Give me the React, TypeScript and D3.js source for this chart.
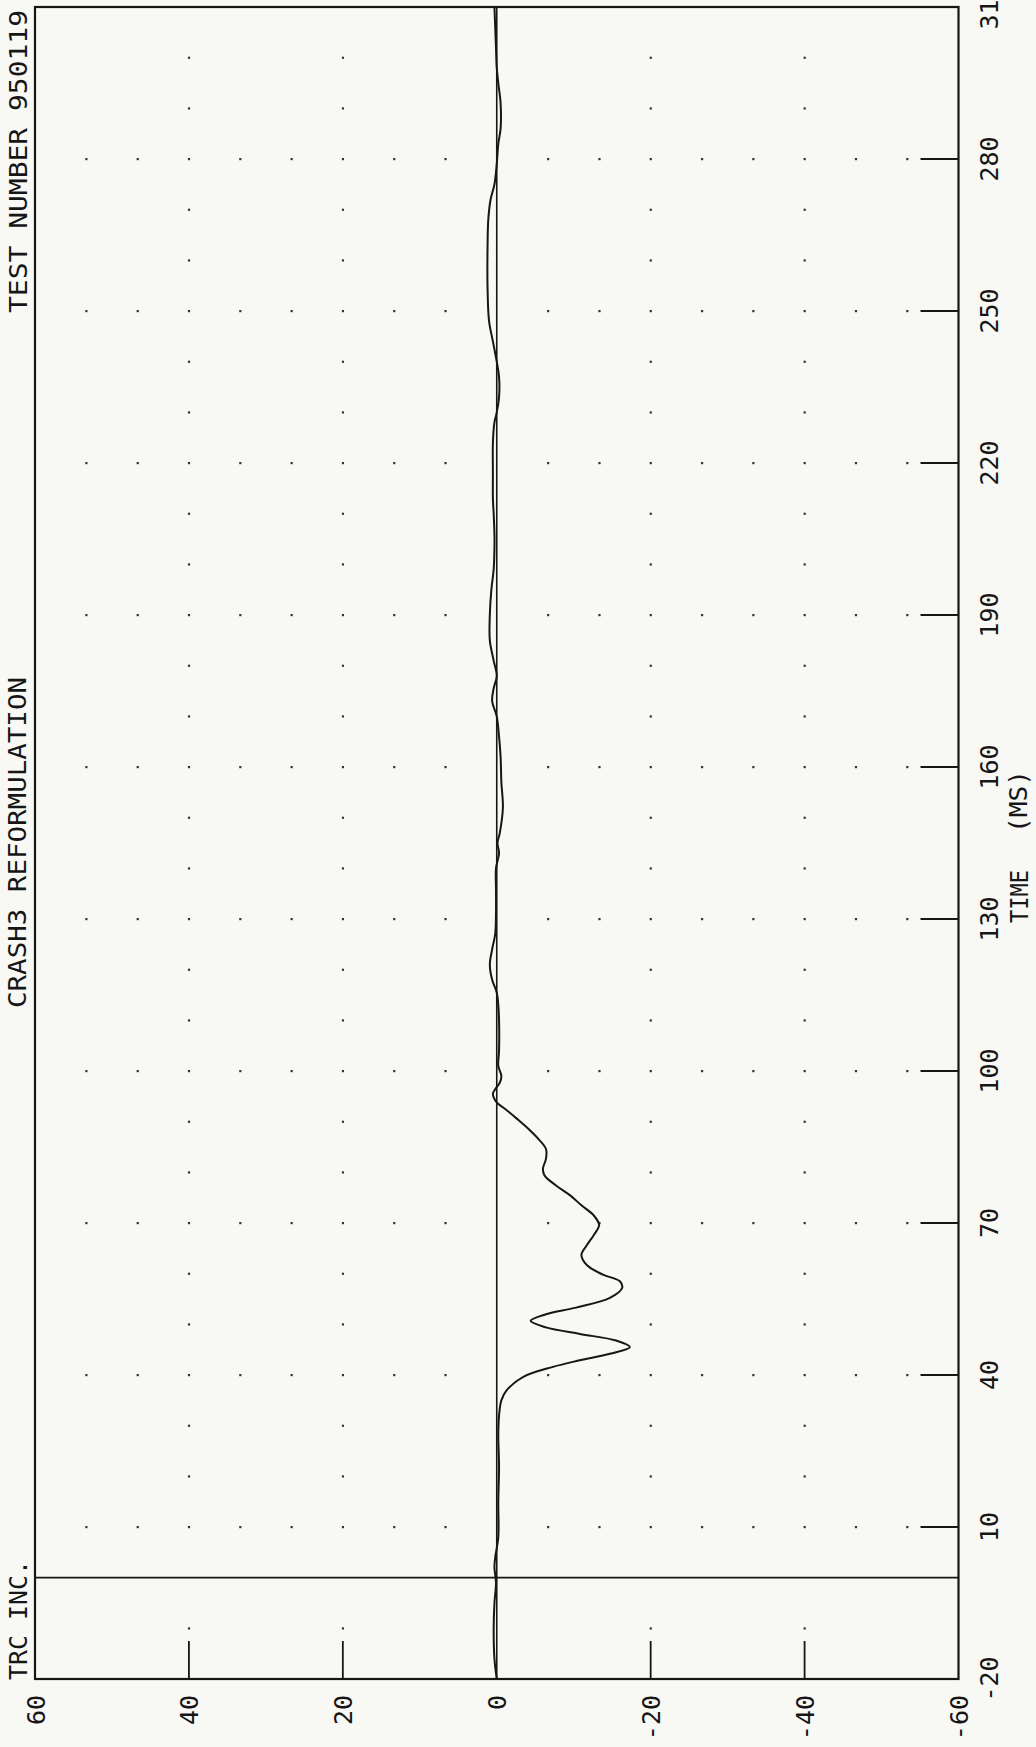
import React from "react";
import * as d3 from "d3";

// ---- data ----
const TIME_TICKS = [-20, 10, 40, 70, 100, 130, 160, 190, 220, 250, 280, 310];
const TIME_TICK_MARKS = [10, 40, 70, 100, 130, 160, 190, 220, 250, 280];
const VALUE_TICKS = [60, 40, 20, 0, -20, -40, -60];
const VALUE_TICK_MARKS = [40, 20, -20, -40];

const TRACE_TIME = [
  -20, -16, -10, -5, -1, 2, 4, 8, 15, 22, 28, 32, 35, 37, 39.6, 41.6, 42.9, 44.2, 45.5,
  46.8, 48.1, 49.4, 50.7, 52.0, 53.3, 55.2, 57.2, 58.5, 59.8, 61.7, 63.7, 65.6, 67.6,
  69.6, 71.5, 73.5, 75.5, 77.4, 79.4, 80.7, 82.7, 84.6, 86.6, 88.6, 90.6, 92.5, 93.8,
  95.5, 96.4, 97.7, 99, 101, 104, 110, 113, 115.5, 118, 121, 124, 127, 131, 136, 140,
  143, 145, 147, 152, 157, 162, 166, 170, 173, 175.5, 178, 181, 185, 190, 195, 199,
  203, 206, 210, 213, 218, 224, 228, 230, 233, 237, 240, 244, 248, 255, 262, 268, 272,
  275, 279, 283, 286, 291, 295, 298, 302, 306, 310,
];
const TRACE_VALUE = [
  0, 0.3, 0.4, 0.3, 0.1, 0.3, 0.2, -0.2, -0.2, -0.3, -0.2, -0.3, -0.6, -1.3, -3.4, -7.3,
  -10.8, -14.7, -17.3, -15.5, -10.8, -6.4, -4.4, -6.4, -10.3, -14.7, -16.3, -16.0,
  -13.8, -11.7, -11.0, -11.7, -12.6, -13.3, -12.6, -11.0, -9.5, -7.7, -6.2, -6.0,
  -6.4, -6.4, -5.4, -4.1, -2.6, -1.1, 0, 0.5, 0.2, -0.4, -0.6, -0.2, -0.3, -0.3, -0.2,
  0, 0.6, 0.9, 0.6, 0.2, 0.1, 0.1, 0.1, -0.3, -0.1, -0.4, -0.8, -0.6, -0.5, -0.3, 0,
  0.6, 0.4, 0, 0.4, 0.9, 0.9, 0.7, 0.4, 0.3, 0.3, 0.4, 0.5, 0.5, 0.5, 0.3, 0, -0.3,
  -0.3, 0, 0.5, 1.0, 1.2, 1.2, 1.1, 0.8, 0.3, 0, -0.2, -0.5, -0.5, -0.2, 0, 0.1, 0.2,
  0.3,
];

const TITLE_LEFT = "TEST NUMBER 950119";
const TITLE_MID = "CRASH3 REFORMULATION";
const TITLE_ORG = "TRC INC.";
const AXIS_TITLE_A = "TIME";
const AXIS_TITLE_B = "(MS)";

// ---- layout ----
const W = 1036;
const H = 1747;
const LEFT = 35;
const RIGHT = 958.5;
const TOP = 7;
const BOTTOM = 1679;
const INK = "#161616";
const FONT = "'DejaVu Sans Mono', 'Liberation Mono', monospace";
const FS = 25;

export default function App() {
  const x = d3.scaleLinear().domain([60, -60]).range([LEFT, RIGHT]);
  const y = d3.scaleLinear().domain([-20, 310]).range([BOTTOM, TOP]);

  const pts: [number, number][] = TRACE_TIME.map((t, i) => [t, TRACE_VALUE[i]]);
  const line = d3
    .line<[number, number]>()
    .x((d) => x(d[1]))
    .y((d) => y(d[0]))
    .curve(d3.curveCatmullRom.alpha(0.5));

  // dot grid
  const fineValues = d3.range(1, 18).map((k) => 60 - (k * 20) / 3);
  const coarseValues = [40, 20, -20, -40];
  const dots: { t: number; v: number }[] = [];
  d3.range(-10, 301, 10).forEach((t) => {
    if (t === 0) return;
    const vals = (t - 10) % 30 === 0 ? fineValues : coarseValues;
    vals.forEach((v) => {
      if (Math.abs(v) < 1e-6) return;
      dots.push({ t, v });
    });
  });

  const tickLen = 38;

  const rotText = (
    key: string,
    bx: number,
    cy: number,
    text: string,
    anchor: "start" | "middle" | "end",
    opts: { textLength?: number; fontSize?: number } = {}
  ) => (
    <text
      key={key}
      transform={`translate(${bx},${cy}) rotate(-90)`}
      textAnchor={anchor}
      fontFamily={FONT}
      fontSize={opts.fontSize ?? FS}
      fill={INK}
      textLength={opts.textLength}
      lengthAdjust={opts.textLength ? "spacingAndGlyphs" : undefined}
    >
      {text}
    </text>
  );

  return (
    <svg
      width={W}
      height={H}
      style={{ position: "absolute", left: 0, top: 0, display: "block" }}
    >
      <rect x={0} y={0} width={W} height={H} fill="#f8f8f4" />

      {/* dot grid */}
      {dots.map((d, i) => (
        <rect key={"d" + i} x={x(d.v) - 1} y={y(d.t) - 1} width={2.2} height={2.2} fill="#333" />
      ))}

      {/* zero lines */}
      <line x1={x(0)} x2={x(0)} y1={TOP} y2={BOTTOM} stroke={INK} strokeWidth={1.6} />
      <line x1={LEFT} x2={RIGHT} y1={y(0)} y2={y(0)} stroke={INK} strokeWidth={1.8} />

      {/* time tick marks (right side) */}
      {TIME_TICK_MARKS.map((t) => (
        <line key={"tt" + t} x1={RIGHT - tickLen} x2={RIGHT} y1={y(t)} y2={y(t)} stroke={INK} strokeWidth={1.8} />
      ))}
      {/* value tick marks (bottom) */}
      {VALUE_TICK_MARKS.map((v) => (
        <line key={"vt" + v} x1={x(v)} x2={x(v)} y1={BOTTOM - tickLen} y2={BOTTOM} stroke={INK} strokeWidth={1.8} />
      ))}

      {/* trace */}
      <path d={line(pts) || ""} fill="none" stroke={INK} strokeWidth={2} strokeLinejoin="round" />

      {/* frame */}
      <rect x={LEFT} y={TOP} width={RIGHT - LEFT} height={BOTTOM - TOP} fill="none" stroke={INK} strokeWidth={2.2} />

      {/* time tick labels */}
      {TIME_TICKS.map((t) => rotText("tl" + t, 998, y(t), String(t), "middle"))}
      {/* value tick labels */}
      {VALUE_TICKS.map((v) => rotText("vl" + v, x(v) + 9.5, 1695, String(v), "end"))}

      {/* axis title */}
      {rotText("at1", 1028, 896.5, AXIS_TITLE_A, "middle", { textLength: 53 })}
      {rotText("at2", 1027, 801.5, AXIS_TITLE_B, "middle", { textLength: 63 })}

      {/* titles */}
      {rotText("t1", 26.5, 161.5, TITLE_LEFT, "middle", { textLength: 303 })}
      {rotText("t2", 26, 842.5, TITLE_MID, "middle", { textLength: 331 })}
      {rotText("t3", 26.5, 1620, TITLE_ORG, "middle", { textLength: 120 })}
    </svg>
  );
}
